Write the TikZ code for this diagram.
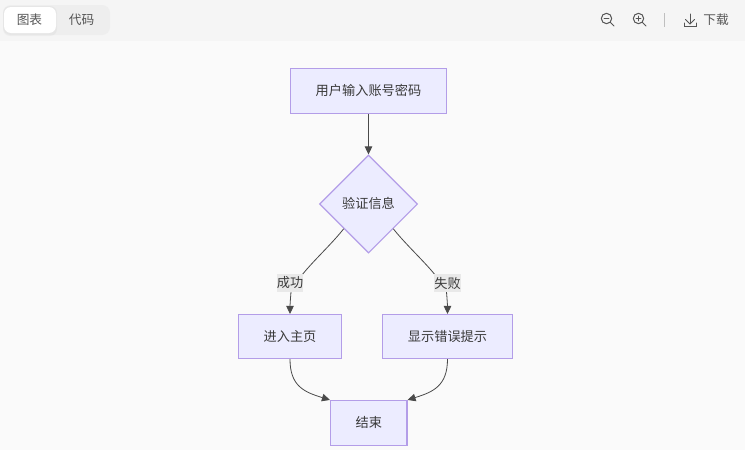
\documentclass[tikz,border=0pt]{standalone}
\usepackage{fontspec}
\setmainfont{Noto Sans CJK SC}
\usetikzlibrary{shapes.geometric,arrows.meta}
\definecolor{nodefill}{HTML}{ECECFF}
\definecolor{nodeline}{HTML}{B39DE8}
\definecolor{edgeline}{HTML}{4A4A4A}
\definecolor{txt}{HTML}{3A3A3A}
\definecolor{barbg}{HTML}{F5F5F5}
\definecolor{pagebg}{HTML}{FAFAFA}
\definecolor{tabbg}{HTML}{EEEEEE}
\definecolor{lblbg}{HTML}{E9E9E9}
\definecolor{uitext}{HTML}{555555}
\tikzset{
  x=1pt,y=-1pt,
  flowbox/.style={draw=nodeline,fill=nodefill,line width=1.1pt,rectangle,inner sep=0pt,text=txt,text height=11.5pt,text depth=2.5pt,font=\fontsize{13.2}{15}\selectfont},
  flowdiamond/.style={flowbox,diamond,minimum width=98pt,minimum height=98pt},
  flowedge/.style={draw=edgeline,line width=0.8pt,-{Triangle[length=8pt,width=7.5pt]}},
  edgelabel/.style={fill=lblbg,inner sep=0pt,minimum width=26pt,minimum height=18pt,text=txt,font=\fontsize{13.2}{15}\selectfont},
  uilabel/.style={inner sep=0pt,text=uitext,font=\fontsize{12.7}{15}\selectfont},
  uiicon/.style={draw=uitext,line width=1pt,line cap=round,fill=none},
}
\begin{document}
\begin{tikzpicture}
\useasboundingbox (0,0) rectangle (745,450);
\fill[pagebg] (0,0) rectangle (745,450);
\fill[barbg] (0,0) rectangle (745,41);
\fill[tabbg,rounded corners=8pt] (3,5) rectangle (110,35);
\fill[black,opacity=0.03,rounded corners=7pt] (3,6) rectangle (57,36);
\fill[white,rounded corners=7pt] (4,7) rectangle (56,33);
\node[uilabel] (tab1) at (29.5,20) {图表};
\node[uilabel] (tab2) at (81.5,20) {代码};
% zoom out
\draw[uiicon] (606.5,18.5) circle (5.2);
\draw[uiicon] (610.3,22.3) -- (614,26);
\draw[uiicon] (604.2,18.5) -- (608.8,18.5);
% zoom in
\draw[uiicon] (638.5,18.5) circle (5.2);
\draw[uiicon] (642.3,22.3) -- (646,26);
\draw[uiicon] (636.2,18.5) -- (640.8,18.5);
\draw[uiicon] (638.5,16.2) -- (638.5,20.8);
% separator
\draw[draw=black!25,line width=0.8pt] (664.5,13) -- (664.5,27);
% download
\draw[uiicon] (690,14) -- (690,23.5);
\draw[uiicon] (685.5,19.5) -- (690,24) -- (694.5,19.5);
\draw[uiicon] (684,23) -- (684,26.5) -- (696,26.5) -- (696,23);
\node[uilabel] (dl) at (716,20) {下载};

\node[flowbox,minimum width=156pt,minimum height=45pt] (a) at (368.5,91) {用户输入账号密码};
\node[flowdiamond] (d) at (368.5,204) {验证信息};
\node[flowbox,minimum width=103pt,minimum height=44pt] (b) at (290,336.5) {进入主页};
\node[flowbox,minimum width=130pt,minimum height=44pt] (c) at (447.5,336.5) {显示错误提示};
\node[flowbox,minimum width=76.5pt,minimum height=45pt] (e) at (368.75,423) {结束};

\draw[flowedge] (a.south) -- (d.north);
\draw[flowedge] (d.south west) .. controls (326,251) and (300,272) .. (291,292) .. controls (290.3,300) and (290,306) .. (b.north);
\draw[flowedge] (d.south east) .. controls (411,251) and (437,272) .. (446.5,292) .. controls (447.2,300) and (447.5,306) .. (c.north);
\draw[flowedge] (b.south) .. controls (290,386) and (304,392) .. (e.north west);
\draw[flowedge] (c.south) .. controls (447.5,386) and (433,392) .. (e.north east);
\node[edgelabel] (l1) at (290,283) {成功};
\node[edgelabel] (l2) at (447.5,283) {失败};
\end{tikzpicture}
\end{document}
